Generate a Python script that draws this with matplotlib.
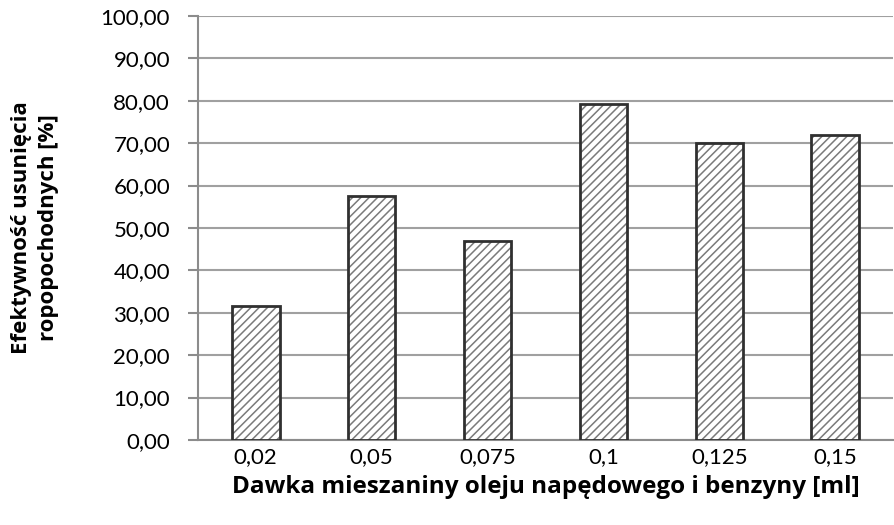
import numpy as np
from matplotlib import pyplot as plt

plt.rcParams['font.family'] = ['Lato', 'DejaVu Sans']
plt.rcParams['hatch.linewidth'] = 1.1

# dawki i efektywnosc usuniecia
doses = ['0,02', '0,05', '0,075', '0,1', '0,125', '0,15']
efficiency = [31.7, 57.5, 46.9, 79.3, 70.0, 71.9]
yticks = np.arange(0, 101, 10)

fig = plt.figure(figsize=(8.95, 5.25), dpi=100)
ax = fig.add_axes([0.221, 0.162, 0.777, 0.8075])

x = np.arange(len(doses))
# hatch in gray, outline drawn separately in dark
ax.bar(x, efficiency, width=0.41, color='white', edgecolor='#7a7a7a',
       hatch='////', linewidth=0, zorder=3)
ax.bar(x, efficiency, width=0.41, fill=False, edgecolor='#303030',
       linewidth=2.0, zorder=4)

ax.set_xlim(-0.5, len(doses) - 0.5)
ax.set_ylim(0, 100)
ax.set_yticks(yticks)
ax.set_yticklabels(['%d,00' % v for v in yticks])
ax.set_xticks(x)
ax.set_xticklabels(doses)

ax.grid(axis='y', color='#a0a0a0', linewidth=1.5, zorder=0)
for s in ['top', 'right']:
    ax.spines[s].set_visible(False)
ax.spines['left'].set_color('#8c8c8c')
ax.spines['left'].set_linewidth(1.5)
ax.spines['bottom'].set_color('#8c8c8c')
ax.spines['bottom'].set_linewidth(1.5)
ax.tick_params(axis='y', length=7, width=1.5, color='#8c8c8c', labelsize=16, pad=13)
ax.tick_params(axis='x', length=0, labelsize=16, pad=5)

lab = dict(family=['Open Sans', 'DejaVu Sans'], fontweight='bold')
ax.set_xlabel('Dawka mieszaniny oleju napędowego i benzyny [ml]', labelpad=6,
              fontsize=17.5, **lab)
ax.set_ylabel('Efektywność usunięcia\nropopochodnych [%]', labelpad=30,
              fontsize=16, linespacing=1.35, **lab)

fig.savefig('out.png', dpi=100)
